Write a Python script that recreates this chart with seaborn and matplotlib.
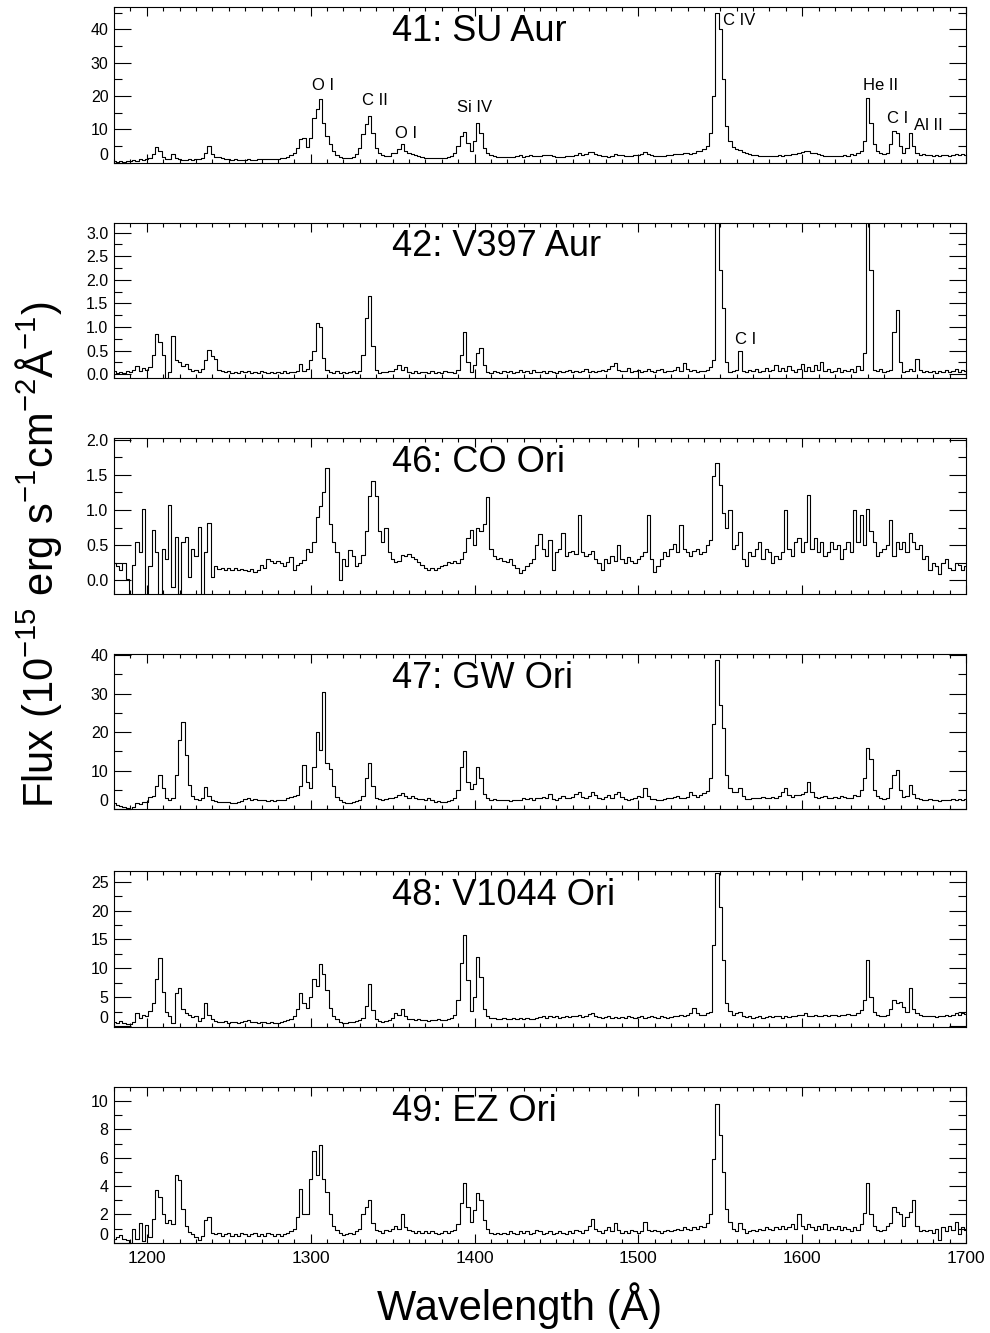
import numpy as np
import matplotlib
matplotlib.use('Agg')
import matplotlib.pyplot as plt
import seaborn as sns
from matplotlib.ticker import MultipleLocator, FormatStrFormatter

# ---------------- data ----------------
wavelength = np.arange(1180, 1701, 2)   # Angstrom sampling grid

flux_su_aur = [
    0.4, 0.3, 0.5, 0.3, 0.6, 0.5, 0.8, 0.6, 1.0, 0.9,
    1.0, 1.3, 2.5, 4.6, 3.5, 1.8, 1.2, 1.0, 2.6, 1.4,
    1.0, 0.9, 0.9, 1.0, 0.8, 1.0, 1.1, 1.5, 3.0, 5.0,
    2.5, 1.8, 1.6, 1.3, 1.1, 1.0, 0.9, 1.0, 0.9, 0.9,
    0.9, 1.0, 0.9, 0.9, 1.0, 1.0, 1.1, 1.0, 1.1, 1.2,
    1.2, 1.3, 1.5, 1.8, 2.2, 3.0, 4.5, 7.0, 7.5, 4.8,
    7.5, 13.5, 16.0, 19.0, 12.0, 8.0, 5.5, 3.5, 2.3, 1.7,
    1.3, 1.3, 1.5, 1.8, 2.5, 4.5, 8.5, 11.5, 14.0, 9.0,
    4.5, 3.0, 2.3, 2.0, 2.0, 2.8, 3.0, 4.0, 5.6, 3.5,
    3.0, 2.6, 2.2, 1.9, 1.7, 1.5, 1.4, 1.3, 1.3, 1.3,
    1.3, 1.4, 1.6, 2.0, 2.8, 5.0, 8.0, 9.1, 6.0, 3.5,
    6.5, 12.0, 9.0, 4.5, 3.0, 2.3, 2.0, 1.8, 1.8, 1.7,
    1.6, 1.6, 1.7, 2.1, 2.3, 1.8, 2.0, 2.2, 2.1, 1.9,
    2.0, 2.2, 2.4, 2.2, 2.0, 1.8, 1.6, 1.7, 1.9, 2.0,
    2.1, 2.4, 3.0, 2.4, 2.6, 3.2, 3.3, 2.6, 2.2, 2.0,
    1.9, 1.8, 2.1, 2.5, 2.3, 2.2, 2.0, 2.1, 2.0, 2.2,
    2.2, 2.5, 3.3, 2.6, 2.2, 2.0, 1.9, 2.0, 2.1, 2.3,
    2.4, 2.6, 2.7, 2.5, 2.8, 3.0, 2.7, 3.0, 3.5, 3.4,
    4.0, 5.0, 9.0, 20.0, 45.0, 40.0, 25.0, 11.0, 6.5, 4.8,
    4.0, 3.8, 3.3, 2.9, 2.5, 2.3, 2.2, 2.0, 2.0, 2.1,
    2.0, 2.1, 2.0, 2.2, 2.1, 2.3, 2.4, 2.5, 2.6, 2.8,
    3.2, 3.6, 3.5, 3.0, 2.8, 2.5, 2.3, 2.1, 2.0, 1.9,
    1.9, 2.0, 2.0, 2.2, 2.0, 2.6, 2.4, 3.0, 3.5, 6.5,
    19.5, 12.0, 5.5, 3.5, 2.9, 2.7, 3.0, 5.5, 9.5, 9.0,
    5.0, 3.0, 4.5, 8.8, 5.0, 3.0, 2.4, 2.6, 2.3, 2.2,
    2.1, 2.3, 2.0, 2.2, 2.4, 2.1, 2.3, 2.5, 2.2, 2.7,
    2.3]

flux_v397_aur = [
    0.06, 0.03, 0.05, 0.02, 0.08, 0.04, 0.10, 0.18, 0.08, 0.14,
    0.10, 0.16, 0.40, 0.86, 0.68, 0.40, -0.10, 0.05, 0.81, 0.30,
    0.25, 0.18, 0.22, 0.12, 0.08, 0.10, 0.05, 0.12, 0.30, 0.51,
    0.38, 0.32, 0.10, 0.06, 0.04, 0.08, 0.03, 0.05, 0.02, 0.06,
    0.04, 0.07, 0.03, 0.05, 0.02, 0.06, 0.04, 0.03, 0.05, 0.02,
    0.04, 0.03, 0.06, 0.02, 0.05, 0.04, 0.08, 0.21, 0.08, 0.12,
    0.30, 0.50, 1.09, 1.00, 0.35, 0.10, 0.05, 0.03, 0.06, 0.02,
    0.05, 0.03, 0.04, 0.06, 0.02, 0.08, 0.40, 1.20, 1.66, 0.60,
    0.10, 0.03, 0.05, 0.04, 0.08, 0.06, 0.12, 0.19, 0.10, 0.15,
    0.05, 0.03, 0.06, 0.02, 0.05, 0.04, 0.03, 0.06, 0.02, 0.05,
    0.03, 0.06, 0.04, 0.05, 0.03, 0.10, 0.40, 0.90, 0.25, 0.05,
    0.20, 0.45, 0.56, 0.20, 0.05, 0.03, 0.06, 0.04, 0.02, 0.06,
    0.04, 0.08, 0.03, 0.05, 0.10, 0.04, 0.06, 0.03, 0.09, 0.05,
    0.04, 0.06, 0.03, 0.08, 0.05, 0.03, 0.07, 0.04, 0.06, 0.10,
    0.05, 0.08, 0.04, 0.06, 0.12, 0.05, 0.08, 0.04, 0.06, 0.10,
    0.06, 0.12, 0.18, 0.23, 0.10, 0.06, 0.08, 0.14, 0.05, 0.07,
    0.10, 0.05, 0.08, 0.12, 0.06, 0.04, 0.09, 0.11, 0.05, 0.08,
    0.06, 0.10, 0.15, 0.08, 0.23, 0.12, 0.07, 0.10, 0.05, 0.08,
    0.06, 0.10, 0.15, 0.30, 4.00, 2.20, 1.40, 0.25, 0.05, 0.08,
    0.10, 0.49, 0.08, 0.04, 0.10, 0.06, 0.12, 0.05, 0.08, 0.14,
    0.06, 0.10, 0.20, 0.08, 0.14, 0.06, 0.18, 0.10, 0.05, 0.12,
    0.22, 0.08, 0.15, 0.06, 0.20, 0.10, 0.25, 0.06, 0.12, 0.05,
    0.08, 0.14, 0.05, 0.10, 0.07, 0.12, 0.04, 0.18, 0.10, 0.46,
    4.00, 2.20, 0.10, 0.06, 0.12, 0.05, 0.08, 0.10, 0.90, 1.37,
    0.25, 0.05, 0.08, 0.12, 0.06, 0.33, 0.10, 0.05, 0.08, 0.04,
    0.06, 0.03, 0.08, 0.05, 0.10, 0.04, 0.07, 0.12, 0.05, 0.09,
    0.06]

flux_co_ori = [
    0.25, 0.20, 0.15, 0.25, 0.02, -0.22, 0.22, 0.55, 0.40, 1.02,
    -0.25, 0.20, 0.71, 0.40, -0.25, 0.45, 0.30, 1.07, -0.10, 0.62,
    -0.20, 0.55, 0.62, 0.05, 0.45, 0.35, 0.76, -0.25, 0.40, 0.81,
    0.05, 0.20, 0.16, 0.18, 0.14, 0.17, 0.15, 0.18, 0.14, 0.16,
    0.15, 0.13, 0.16, 0.12, 0.15, 0.22, 0.18, 0.30, 0.27, 0.25,
    0.28, 0.24, 0.20, 0.26, 0.33, 0.15, 0.22, 0.24, 0.29, 0.45,
    0.40, 0.55, 0.90, 1.05, 1.25, 1.60, 0.80, 0.55, 0.40, 0.00,
    0.30, 0.20, 0.43, 0.35, 0.20, 0.25, 0.36, 0.70, 1.20, 1.41,
    1.20, 0.70, 0.55, 0.74, 0.40, 0.30, 0.26, 0.28, 0.36, 0.35,
    0.38, 0.33, 0.30, 0.26, 0.22, 0.18, 0.15, 0.18, 0.14, 0.17,
    0.20, 0.22, 0.26, 0.24, 0.28, 0.25, 0.30, 0.40, 0.60, 0.71,
    0.50, 0.74, 0.70, 0.80, 1.19, 0.45, 0.35, 0.30, 0.32, 0.28,
    0.26, 0.30, 0.22, 0.18, 0.10, 0.15, 0.20, 0.25, 0.30, 0.50,
    0.66, 0.45, 0.35, 0.57, 0.14, 0.40, 0.45, 0.67, 0.35, 0.40,
    0.42, 0.38, 0.93, 0.40, 0.35, 0.38, 0.42, 0.30, 0.25, 0.14,
    0.30, 0.25, 0.35, 0.28, 0.50, 0.30, 0.25, 0.33, 0.28, 0.24,
    0.30, 0.35, 0.40, 0.93, 0.30, 0.12, 0.20, 0.30, 0.40, 0.35,
    0.45, 0.52, 0.40, 0.79, 0.45, 0.40, 0.35, 0.42, 0.45, 0.38,
    0.40, 0.50, 0.57, 1.48, 1.67, 1.35, 0.95, 0.75, 1.00, 0.45,
    0.50, 0.69, 0.30, 0.20, 0.40, 0.35, 0.45, 0.55, 0.30, 0.45,
    0.40, 0.25, 0.35, 0.30, 0.40, 1.00, 0.45, 0.35, 0.55, 0.60,
    0.40, 0.55, 1.21, 0.45, 0.60, 0.40, 0.55, 0.35, 0.40, 0.55,
    0.45, 0.50, 0.30, 0.45, 0.55, 0.40, 1.00, 0.55, 0.93, 0.50,
    1.02, 0.70, 0.55, 0.35, 0.40, 0.45, 0.50, 0.86, 0.35, 0.55,
    0.45, 0.55, 0.40, 0.67, 0.55, 0.45, 0.50, 0.30, 0.35, 0.14,
    0.25, 0.20, 0.09, 0.25, 0.30, 0.18, 0.15, 0.25, 0.22, 0.15,
    0.20]

flux_gw_ori = [
    1.6, 1.2, 0.9, 0.6, 0.3, 0.1, 0.6, 1.6, 1.4, 1.8,
    2.0, 3.1, 3.4, 6.0, 8.9, 5.5, 3.0, 2.4, 2.8, 9.0,
    18.0, 22.7, 14.0, 6.3, 3.5, 2.6, 2.4, 3.0, 5.9, 3.5,
    2.5, 2.2, 2.0, 1.9, 2.0, 1.8, 1.6, 1.7, 1.9, 2.2,
    2.6, 2.9, 2.4, 2.7, 2.5, 2.4, 2.3, 2.2, 2.4, 2.2,
    2.3, 2.4, 2.5, 2.8, 3.2, 3.4, 3.6, 6.0, 11.5, 7.0,
    5.5, 11.0, 20.1, 15.4, 30.3, 12.0, 10.5, 6.0, 3.3, 2.5,
    1.8, 1.6, 1.7, 2.0, 2.2, 2.4, 3.5, 8.0, 11.9, 6.0,
    3.0, 2.6, 2.4, 2.6, 2.9, 3.0, 3.2, 3.8, 4.2, 3.5,
    3.0, 3.4, 2.8, 2.6, 2.7, 2.3, 2.9, 2.4, 2.0, 2.1,
    1.9, 2.0, 2.1, 2.3, 2.9, 5.0, 11.0, 15.1, 7.0, 5.3,
    6.5, 11.0, 8.0, 4.0, 2.8, 2.5, 2.6, 2.4, 2.5, 2.3,
    2.5, 2.2, 2.4, 2.3, 2.5, 3.0, 2.6, 2.8, 2.5, 2.9,
    3.0, 3.2, 3.0, 3.9, 2.7, 2.5, 2.8, 3.5, 3.0, 2.9,
    3.2, 4.0, 4.4, 3.2, 2.9, 3.5, 4.6, 3.7, 2.9, 2.7,
    3.2, 3.8, 3.0, 3.9, 4.4, 3.2, 2.6, 2.5, 2.6, 3.0,
    3.4, 3.2, 5.5, 3.5, 2.7, 2.6, 2.5, 2.4, 2.6, 2.8,
    2.9, 3.3, 3.5, 3.0, 2.9, 3.2, 4.4, 3.6, 3.3, 3.8,
    4.2, 4.8, 8.0, 22.0, 38.6, 27.0, 21.0, 9.0, 5.5, 4.5,
    4.6, 5.5, 3.5, 2.7, 2.6, 2.9, 3.0, 2.8, 3.1, 3.0,
    2.9, 3.2, 3.0, 3.5, 4.5, 5.5, 3.6, 3.3, 3.8, 3.6,
    4.0, 4.5, 7.1, 4.5, 3.2, 2.9, 3.1, 3.4, 2.8, 3.0,
    3.2, 2.9, 3.4, 3.1, 2.8, 3.0, 3.6, 3.5, 5.0, 8.0,
    15.8, 13.0, 5.0, 3.4, 2.8, 2.6, 3.0, 5.5, 9.0, 10.2,
    5.0, 3.2, 3.5, 6.3, 4.0, 3.0, 2.6, 2.5, 2.4, 2.6,
    2.3, 2.5, 2.2, 2.4, 2.5, 2.3, 2.6, 2.4, 2.7, 2.5,
    2.6]

flux_v1044_ori = [
    0.8, 0.6, 0.9, 0.5, 0.4, 0.3, 0.8, 2.2, 1.5, 2.0,
    1.8, 2.6, 4.0, 8.1, 11.8, 6.0, 2.5, 1.8, 0.5, 5.7,
    6.6, 3.0, 2.2, 1.9, 1.6, 1.8, 0.9, 1.5, 4.0, 1.9,
    1.2, 0.9, 0.8, 0.7, 0.9, 0.6, 0.8, 0.7, 0.6, 0.8,
    0.9, 1.1, 0.8, 0.7, 0.6, 0.8, 0.7, 0.6, 0.8, 0.6,
    0.5, 0.7, 0.9, 1.0, 1.2, 1.8, 3.0, 5.8, 4.0, 3.1,
    5.0, 8.1, 7.0, 10.8, 9.0, 6.3, 3.2, 1.8, 1.2, 0.8,
    0.5, 0.6, 0.7, 0.8, 0.9, 1.0, 1.5, 3.5, 7.3, 2.8,
    1.2, 0.9, 0.8, 0.9, 1.0, 1.5, 2.3, 2.0, 3.0, 1.8,
    1.2, 1.3, 1.0, 1.2, 1.0, 1.1, 0.9, 1.1, 1.0, 1.2,
    1.0, 1.1, 1.2, 1.4, 2.0, 4.6, 11.0, 15.8, 8.0, 2.6,
    5.0, 12.0, 8.5, 3.0, 1.8, 1.5, 1.4, 1.3, 1.2, 1.4,
    1.3, 1.2, 1.4, 1.3, 1.5, 1.2, 1.4, 1.3, 1.2, 1.4,
    1.6, 1.7, 1.5, 1.8, 1.6, 1.7, 1.5, 1.6, 1.7, 1.6,
    1.7, 1.8, 2.0, 1.6, 1.7, 2.1, 2.3, 1.7, 1.6, 1.5,
    1.6, 1.7, 1.5, 1.6, 1.4, 1.6, 1.5, 1.7, 1.6, 1.5,
    1.6, 1.7, 1.5, 1.6, 1.8, 1.6, 1.5, 1.7, 1.6, 1.5,
    1.6, 1.8, 1.7, 1.9, 1.8, 2.0, 2.2, 3.1, 2.2, 1.9,
    2.0, 2.2, 2.5, 14.0, 26.5, 20.7, 11.5, 4.0, 2.6, 2.0,
    2.2, 2.4, 1.8, 1.6, 1.7, 1.5, 1.6, 1.7, 1.5, 1.6,
    1.7, 1.6, 1.8, 1.7, 1.5, 1.7, 1.6, 1.8, 1.7, 1.9,
    2.0, 2.2, 1.8, 1.7, 1.9, 1.8, 1.7, 1.9, 1.8, 2.0,
    1.9, 1.8, 2.0, 1.9, 2.1, 1.9, 2.0, 2.2, 2.8, 4.6,
    11.5, 5.0, 2.4, 2.0, 1.8, 1.7, 2.0, 3.0, 4.5, 4.0,
    4.2, 3.4, 2.5, 6.6, 3.0, 2.2, 2.0, 1.8, 1.7, 1.8,
    1.7, 1.6, 1.8, 1.7, 1.9, 1.8, 2.0, 2.2, 2.0, 2.3,
    2.1]

flux_ez_ori = [
    0.3, 0.4, 0.53, 0.3, 0.2, 0.0, 1.0, 0.3, 1.36, 0.1,
    1.25, 0.4, 1.7, 3.7, 3.2, 2.0, 1.36, 1.6, 1.3, 4.8,
    4.4, 2.4, 1.2, 0.77, 0.6, 0.4, 0.2, 0.5, 1.6, 1.8,
    0.7, 0.6, 0.7, 0.5, 0.6, 0.7, 0.5, 0.6, 0.5, 0.7,
    0.6, 0.5, 0.6, 0.7, 0.5, 0.6, 0.5, 0.7, 0.6, 0.5,
    0.6, 0.5, 0.6, 0.7, 0.8, 1.0, 1.8, 3.8, 2.0, 2.0,
    4.5, 6.5, 4.8, 6.9, 4.5, 3.6, 2.0, 1.2, 0.9, 0.7,
    0.53, 0.6, 0.7, 0.6, 0.8, 1.0, 2.0, 2.5, 3.0, 1.4,
    0.9, 0.8, 0.7, 0.9, 0.8, 1.0, 1.2, 1.0, 2.0, 1.1,
    0.9, 0.8, 0.7, 0.8, 0.7, 0.8, 0.7, 0.8, 0.7, 0.6,
    0.7, 0.8, 0.7, 0.8, 0.9, 1.3, 2.8, 4.2, 2.5, 1.5,
    2.3, 3.5, 3.0, 1.6, 1.0, 0.7, 0.6, 0.7, 0.6, 0.7,
    0.6, 0.8, 0.7, 0.6, 0.8, 0.7, 0.8, 0.6, 0.7, 0.9,
    0.8, 0.6, 0.7, 0.8, 0.6, 0.7, 0.8, 0.7, 0.6, 0.8,
    0.7, 0.9, 0.8, 0.7, 0.9, 1.2, 1.7, 1.0, 0.8, 0.7,
    0.9, 1.1, 0.8, 1.36, 0.9, 0.7, 0.8, 0.7, 0.9, 0.8,
    0.7, 0.8, 1.5, 0.9, 0.8, 0.9, 0.8, 0.7, 0.8, 0.9,
    0.8, 0.9, 1.0, 0.9, 1.1, 1.0, 0.9, 1.1, 1.0, 1.2,
    1.1, 1.4, 2.0, 5.9, 9.8, 7.6, 5.0, 2.4, 1.5, 1.0,
    0.8, 1.4, 1.0, 0.7, 0.8, 0.9, 0.8, 1.0, 0.9, 1.1,
    1.0, 0.9, 1.1, 1.0, 1.2, 1.0, 1.1, 1.3, 1.0, 2.0,
    1.2, 1.0, 1.3, 1.1, 0.9, 1.2, 1.0, 1.3, 0.9, 1.1,
    1.0, 1.2, 0.9, 1.1, 1.0, 0.8, 1.1, 0.9, 1.3, 2.1,
    4.2, 2.0, 1.2, 0.9, 0.8, 0.9, 1.2, 1.4, 2.5, 2.2,
    2.0, 1.2, 1.8, 2.2, 3.0, 1.2, 0.8, 0.9, 0.8, 0.9,
    0.7, 1.0, 0.2, 1.1, 0.8, 1.2, 0.9, 1.5, 0.6, 1.1,
    0.9]

star_names = ['41: SU Aur', '42: V397 Aur', '46: CO Ori',
              '47: GW Ori', '48: V1044 Ori', '49: EZ Ori']
spectra = [flux_su_aur, flux_v397_aur, flux_co_ori,
           flux_gw_ori, flux_v1044_ori, flux_ez_ori]

# emission line identifications
ids_41_text = ['O I', 'C II', 'O I', 'Si IV', 'C IV', 'He II', 'C I', 'Al II']
ids_41_wave = [1307.7, 1339.0, 1358.0, 1400.3, 1561.4, 1647.8, 1658.3, 1677.0]
ids_41_flux = [23.3, 18.8, 8.8, 16.6, 42.6, 23.3, 13.3, 11.3]
ids_42_text = ['C I']
ids_42_wave = [1565.6]
ids_42_flux = [0.74]

# ---------------- styling ----------------
sns.set_style('ticks')
plt.rcParams['font.family'] = ['Liberation Sans', 'DejaVu Sans']
plt.rcParams['mathtext.fontset'] = 'custom'
plt.rcParams['mathtext.rm'] = 'Liberation Sans'
plt.rcParams['mathtext.it'] = 'Liberation Sans:italic'
plt.rcParams['mathtext.bf'] = 'Liberation Sans:bold'
plt.rcParams['mathtext.default'] = 'regular'
for key in ['text.color', 'axes.labelcolor', 'xtick.color', 'ytick.color',
            'axes.edgecolor', 'xtick.labelcolor', 'ytick.labelcolor']:
    plt.rcParams[key] = 'black'

ylims = [(-0.1, 46.7), (-0.085, 3.21), (-0.2, 2.02),
         (0.0, 40.2), (-0.2, 26.85), (0.0, 10.97)]
y_major = [10, 0.5, 0.5, 10, 5, 2]
y_minor = [5, 0.25, 0.25, 5, 2.5, 1]
y_fmt = ['%d', '%.1f', '%.1f', '%d', '%d', '%d']
raise_bottom_label = [True, False, False, True, True, True]
ax_bottoms = [0.8777, 0.7162, 0.5542, 0.3929, 0.2293, 0.0677]
ax_heights = [0.1170, 0.1167, 0.1170, 0.1163, 0.1173, 0.1166]
ax_left, ax_width = 0.1152, 0.8606

fig = plt.figure(figsize=(9.9, 13.33), dpi=100)

for i in range(6):
    ax = fig.add_axes([ax_left, ax_bottoms[i], ax_width, ax_heights[i]])
    sns.lineplot(x=wavelength, y=spectra[i], ax=ax, color='black',
                 linewidth=0.8, drawstyle='steps-mid', estimator=None)
    ax.set_xlim(1180, 1700)
    ax.set_ylim(*ylims[i])
    ax.set_xlabel('')
    ax.set_ylabel('')
    ax.xaxis.set_major_locator(MultipleLocator(100))
    ax.xaxis.set_minor_locator(MultipleLocator(10))
    ax.yaxis.set_major_locator(MultipleLocator(y_major[i]))
    ax.yaxis.set_minor_locator(MultipleLocator(y_minor[i]))
    ax.yaxis.set_major_formatter(FormatStrFormatter(y_fmt[i]))
    ax.tick_params(which='both', direction='in', top=True, right=True,
                   color='black', labelcolor='black', width=0.8)
    ax.tick_params(axis='y', which='major', length=12, labelsize=11.5, pad=4)
    ax.tick_params(axis='y', which='minor', length=6)
    ax.tick_params(axis='x', which='major', length=6.5, labelsize=12.5, pad=6)
    ax.tick_params(axis='x', which='minor', length=3.2)
    if i < 5:
        ax.tick_params(axis='x', labelbottom=False)
    for sp in ax.spines.values():
        sp.set_linewidth(0.8)
        sp.set_color('black')
    ax.text(0.326, 0.846, star_names[i], transform=ax.transAxes,
            fontsize=26, ha='left', va='center', color='black')
    if raise_bottom_label[i]:
        fig.canvas.draw()
        for lab, loc in zip(ax.get_yticklabels(), ax.get_yticks()):
            if loc == 0:
                lab.set_va('bottom')
    if i == 0:
        for t, w, f in zip(ids_41_text, ids_41_wave, ids_41_flux):
            ax.text(w, f, t, fontsize=12, ha='center', va='center', color='black')
    if i == 1:
        for t, w, f in zip(ids_42_text, ids_42_wave, ids_42_flux):
            ax.text(w, f, t, fontsize=12, ha='center', va='center', color='black')

fig.text(0.039, 0.584,
         r'Flux (10$^{-15}$ erg s$^{-1}$cm$^{-2}$Å$^{-1}$)',
         rotation=90, ha='center', va='center', fontsize=30, color='black')
fig.text(0.525, 0.0205, 'Wavelength (Å)', ha='center', va='center',
         fontsize=30, color='black')

fig.savefig('out.png', dpi=100)
